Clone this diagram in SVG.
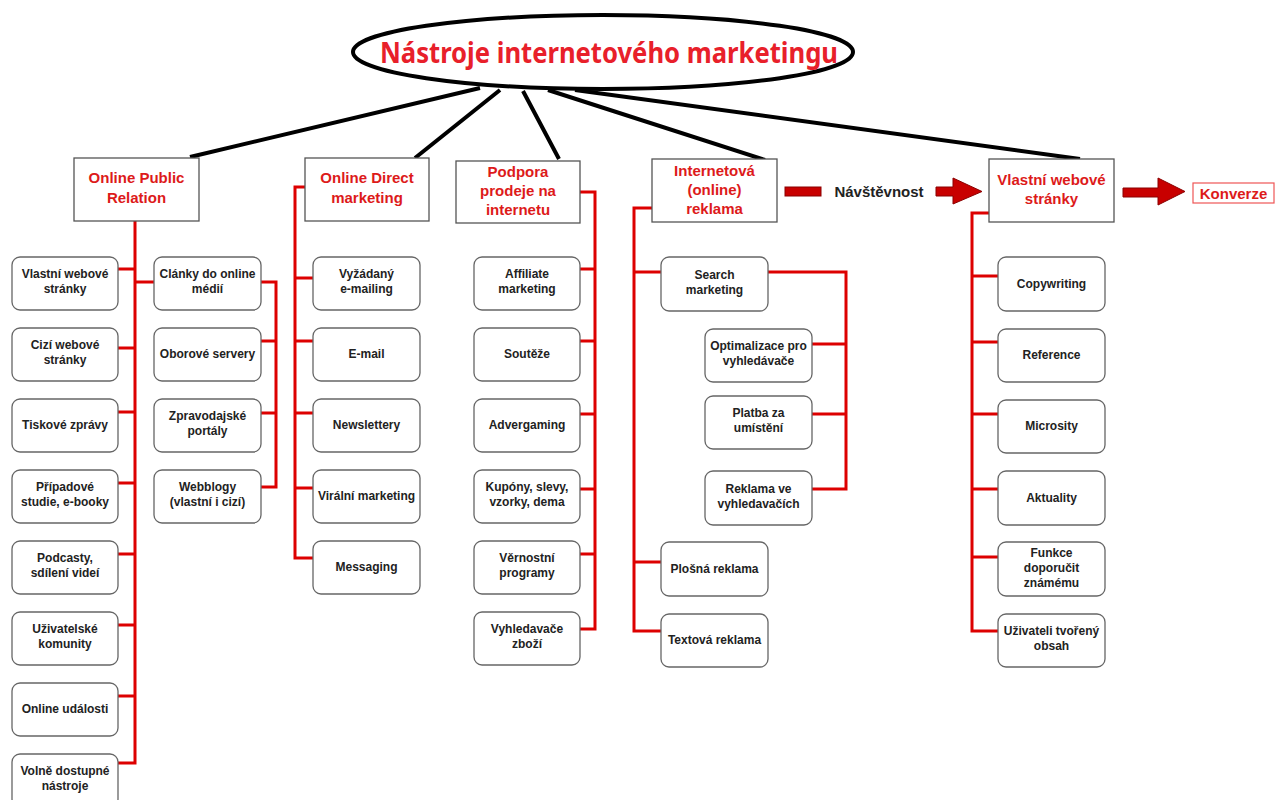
<svg xmlns="http://www.w3.org/2000/svg" width="1284" height="800" viewBox="0 0 1284 800">
<style>
.hdr{fill:#fff;stroke:#555;stroke-width:1.3}
.box{fill:#fff;stroke:#666;stroke-width:1.3}
.ht{font-family:"Liberation Sans",Arial,sans-serif;font-weight:bold;font-size:15px;fill:#dd1a1a;text-anchor:middle}
.bt{font-family:"Liberation Sans",Arial,sans-serif;font-weight:bold;font-size:12px;fill:#222;text-anchor:middle}
.red{fill:none;stroke:#dd0000;stroke-width:3;stroke-linejoin:miter}
.blk{fill:none;stroke:#000;stroke-width:4}
.arr{fill:#c80000;stroke:#8a0000;stroke-width:1}
</style>
<rect width="1284" height="800" fill="#fff"/>
<g id="connectors">
<path class="blk" d="M480 88 L190 157 M500 90 L415 158 M523 91 L559 159 M548 90 L765 160 M575 90 L1080 159"/>
<path class="red" d="M135 221 V763 H118 M118 269 H135 M118 348 H135 M118 412 H135 M118 483 H135 M118 554 H135 M118 625 H135 M118 696 H135 M135 282 H154"/>
<path class="red" d="M261 282 H276 V487 H261 M261 341 H276 M261 413 H276"/>
<path class="red" d="M305 187 H295 V558 H313 M295 278 H313 M295 341 H313 M295 413 H313 M295 488 H313"/>
<path class="red" d="M580 192 H595 V629 H580 M580 269 H595 M580 341 H595 M580 414 H595 M580 489 H595 M580 554 H595"/>
<path class="red" d="M652 208 H634 V631 H661 M634 272 H661 M634 562 H661"/>
<path class="red" d="M768 272 H846 V489 H812 M812 344 H846 M812 414 H846"/>
<path class="red" d="M989 213 H972 V631 H998 M972 276 H998 M972 342 H998 M972 414 H998 M972 489 H998 M972 557 H998"/>
<rect class="arr" x="785" y="187" width="36" height="9"/>
<path class="arr" d="M936 187 H953 V178 L982 191.5 L953 204 V196 H936 Z"/>
<path class="arr" d="M1123 188 H1158 V178 L1185 191.5 L1158 205 V197 H1123 Z"/>
</g>
<g id="root">
<ellipse cx="603" cy="52" rx="250" ry="37" fill="#fff" stroke="#000" stroke-width="4"/>
<text x="609" y="63" font-family="'Noto Sans','Open Sans',sans-serif" font-weight="bold" font-size="28" fill="#e8202a" text-anchor="middle" textLength="458" lengthAdjust="spacingAndGlyphs">Nástroje internetového marketingu</text>
</g>
<g id="n-opr"><rect class="hdr" x="74" y="158" width="125" height="63"/><text class="ht" x="136.5" y="183">Online Public</text><text class="ht" x="136.5" y="203">Relation</text></g>
<g id="n-od"><rect class="hdr" x="305" y="158" width="124" height="63"/><text class="ht" x="367" y="183">Online Direct</text><text class="ht" x="367" y="203">marketing</text></g>
<g id="n-pp"><rect class="hdr" x="456" y="161" width="124" height="62"/><text class="ht" x="518" y="177">Podpora</text><text class="ht" x="518" y="196">prodeje na</text><text class="ht" x="518" y="215">internetu</text></g>
<g id="n-ir"><rect class="hdr" x="652" y="159" width="125" height="63"/><text class="ht" x="714.5" y="176">Internetová</text><text class="ht" x="714.5" y="195">(online)</text><text class="ht" x="714.5" y="214">reklama</text></g>
<g id="n-navst"><text x="879" y="197" font-family="'Liberation Sans',Arial,sans-serif" font-weight="bold" font-size="15" fill="#222" text-anchor="middle">Návštěvnost</text></g>
<g id="n-vws"><rect class="hdr" x="989" y="159" width="125" height="63"/><text class="ht" x="1051.5" y="185">Vlastní webové</text><text class="ht" x="1051.5" y="204">stránky</text></g>
<g id="n-konv"><rect x="1193" y="183" width="81" height="20" fill="#fff" stroke="#ee5555" stroke-width="1.2"/><text class="ht" x="1233.5" y="199">Konverze</text></g>

<g id="opr1"><rect class="box" x="12" y="257" width="106" height="53" rx="8"/><text class="bt" x="65" y="278">Vlastní webové</text><text class="bt" x="65" y="293">stránky</text></g>
<g id="opr2"><rect class="box" x="12" y="328" width="106" height="53" rx="8"/><text class="bt" x="65" y="349">Cizí webové</text><text class="bt" x="65" y="364">stránky</text></g>
<g id="opr3"><rect class="box" x="12" y="399" width="106" height="53" rx="8"/><text class="bt" x="65" y="429">Tiskové zprávy</text></g>
<g id="opr4"><rect class="box" x="12" y="470" width="106" height="53" rx="8"/><text class="bt" x="65" y="491">Případové</text><text class="bt" x="65" y="506">studie, e-booky</text></g>
<g id="opr5"><rect class="box" x="12" y="541" width="106" height="53" rx="8"/><text class="bt" x="65" y="562">Podcasty,</text><text class="bt" x="65" y="577">sdílení videí</text></g>
<g id="opr6"><rect class="box" x="12" y="612" width="106" height="53" rx="8"/><text class="bt" x="65" y="633">Uživatelské</text><text class="bt" x="65" y="648">komunity</text></g>
<g id="opr7"><rect class="box" x="12" y="683" width="106" height="53" rx="8"/><text class="bt" x="65" y="713">Online události</text></g>
<g id="opr8"><rect class="box" x="12" y="754" width="106" height="53" rx="8"/><text class="bt" x="65" y="775">Volně dostupné</text><text class="bt" x="65" y="790">nástroje</text></g>

<g id="opr9"><rect class="box" x="154" y="257" width="107" height="53" rx="8"/><text class="bt" x="207.5" y="278">Clánky do online</text><text class="bt" x="207.5" y="293">médií</text></g>
<g id="opr10"><rect class="box" x="154" y="328" width="107" height="53" rx="8"/><text class="bt" x="207.5" y="358">Oborové servery</text></g>
<g id="opr11"><rect class="box" x="154" y="399" width="107" height="53" rx="8"/><text class="bt" x="207.5" y="420">Zpravodajské</text><text class="bt" x="207.5" y="435">portály</text></g>
<g id="opr12"><rect class="box" x="154" y="470" width="107" height="53" rx="8"/><text class="bt" x="207.5" y="491">Webblogy</text><text class="bt" x="207.5" y="506">(vlastní i cizí)</text></g>

<g id="od1"><rect class="box" x="313" y="257" width="107" height="53" rx="8"/><text class="bt" x="366.5" y="278">Vyžádaný</text><text class="bt" x="366.5" y="293">e-mailing</text></g>
<g id="od2"><rect class="box" x="313" y="328" width="107" height="53" rx="8"/><text class="bt" x="366.5" y="358">E-mail</text></g>
<g id="od3"><rect class="box" x="313" y="399" width="107" height="53" rx="8"/><text class="bt" x="366.5" y="429">Newslettery</text></g>
<g id="od4"><rect class="box" x="313" y="470" width="107" height="53" rx="8"/><text class="bt" x="366.5" y="500">Virální marketing</text></g>
<g id="od5"><rect class="box" x="313" y="541" width="107" height="53" rx="8"/><text class="bt" x="366.5" y="571">Messaging</text></g>

<g id="pp1"><rect class="box" x="474" y="257" width="106" height="53" rx="8"/><text class="bt" x="527" y="278">Affiliate</text><text class="bt" x="527" y="293">marketing</text></g>
<g id="pp2"><rect class="box" x="474" y="328" width="106" height="53" rx="8"/><text class="bt" x="527" y="358">Soutěže</text></g>
<g id="pp3"><rect class="box" x="474" y="399" width="106" height="53" rx="8"/><text class="bt" x="527" y="429">Advergaming</text></g>
<g id="pp4"><rect class="box" x="474" y="470" width="106" height="53" rx="8"/><text class="bt" x="527" y="491">Kupóny, slevy,</text><text class="bt" x="527" y="506">vzorky, dema</text></g>
<g id="pp5"><rect class="box" x="474" y="541" width="106" height="53" rx="8"/><text class="bt" x="527" y="562">Věrnostní</text><text class="bt" x="527" y="577">programy</text></g>
<g id="pp6"><rect class="box" x="474" y="612" width="106" height="53" rx="8"/><text class="bt" x="527" y="633">Vyhledavače</text><text class="bt" x="527" y="648">zboží</text></g>

<g id="ir1"><rect class="box" x="661" y="257" width="107" height="54" rx="8"/><text class="bt" x="714.5" y="279">Search</text><text class="bt" x="714.5" y="294">marketing</text></g>
<g id="ir2"><rect class="box" x="705" y="329" width="107" height="53" rx="8"/><text class="bt" x="758.5" y="350">Optimalizace pro</text><text class="bt" x="758.5" y="365">vyhledávače</text></g>
<g id="ir3"><rect class="box" x="705" y="396" width="107" height="53" rx="8"/><text class="bt" x="758.5" y="417">Platba za</text><text class="bt" x="758.5" y="432">umístění</text></g>
<g id="ir4"><rect class="box" x="705" y="471" width="107" height="54" rx="8"/><text class="bt" x="758.5" y="493">Reklama ve</text><text class="bt" x="758.5" y="508">vyhledavačích</text></g>
<g id="ir5"><rect class="box" x="661" y="542" width="107" height="54" rx="8"/><text class="bt" x="714.5" y="573">Plošná reklama</text></g>
<g id="ir6"><rect class="box" x="661" y="614" width="107" height="53" rx="8"/><text class="bt" x="714.5" y="644">Textová reklama</text></g>

<g id="vw1"><rect class="box" x="998" y="257" width="107" height="54" rx="8"/><text class="bt" x="1051.5" y="288">Copywriting</text></g>
<g id="vw2"><rect class="box" x="998" y="329" width="107" height="53" rx="8"/><text class="bt" x="1051.5" y="359">Reference</text></g>
<g id="vw3"><rect class="box" x="998" y="400" width="107" height="53" rx="8"/><text class="bt" x="1051.5" y="430">Microsity</text></g>
<g id="vw4"><rect class="box" x="998" y="471" width="107" height="54" rx="8"/><text class="bt" x="1051.5" y="502">Aktuality</text></g>
<g id="vw5"><rect class="box" x="998" y="542" width="107" height="54" rx="8"/><text class="bt" x="1051.5" y="557">Funkce</text><text class="bt" x="1051.5" y="572">doporučit</text><text class="bt" x="1051.5" y="587">známému</text></g>
<g id="vw6"><rect class="box" x="998" y="614" width="107" height="53" rx="8"/><text class="bt" x="1051.5" y="635">Uživateli tvořený</text><text class="bt" x="1051.5" y="650">obsah</text></g>
</svg>
